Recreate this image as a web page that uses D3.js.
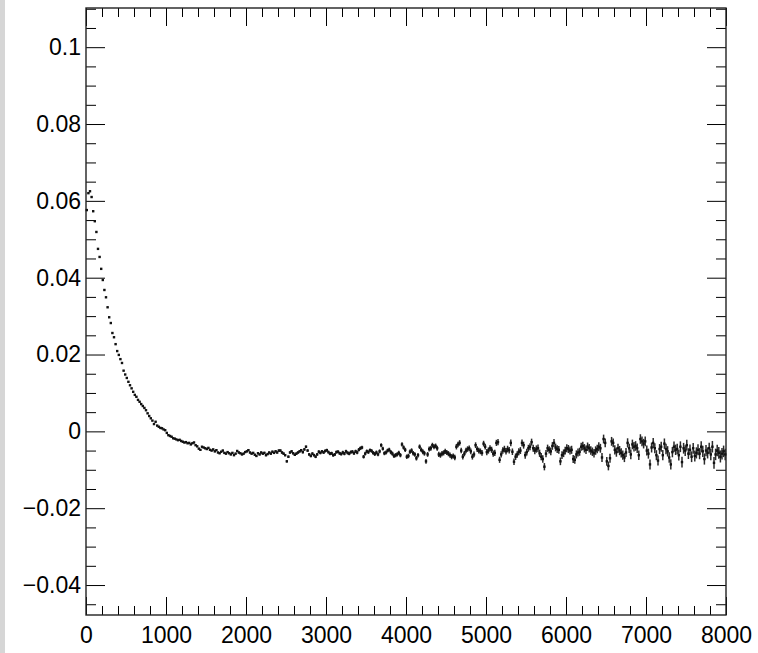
<!DOCTYPE html>
<html>
<head>
<meta charset="utf-8">
<script src="https://cdn.jsdelivr.net/npm/d3@7"></script>
<style>
  html, body { margin: 0; padding: 0; background: #fff; }
  svg { display: block; }
  text { font-family: "Liberation Sans", Arial, Helvetica, sans-serif; }
</style>
</head>
<body>
<script>
// ---- data ----
const binWidth = 20;            // histogram bin width in x units
const xMajorTicks = [0, 1000, 2000, 3000, 4000, 5000, 6000, 7000, 8000];
const yMajorTicks = [-0.04, -0.02, 0, 0.02, 0.04, 0.06, 0.08, 0.1];
const xDomain = [0, 8000];
const yDomain = [-0.0478, 0.1102];

// bin contents, bins of width 20 starting at x = 0
const values = [
  0.0576, 0.0620, 0.0625, 0.0610, 0.0573, 0.0547, 0.0519, 0.0475, 0.0454, 0.0423,
  0.0394, 0.0368, 0.0349, 0.0323, 0.0297, 0.0282, 0.0256, 0.0245, 0.0227, 0.0209,
  0.0199, 0.0188, 0.0178, 0.0158, 0.0148, 0.0139, 0.0129, 0.0120, 0.0112, 0.0103,
  0.0095, 0.0090, 0.0082, 0.0077, 0.0071, 0.0066, 0.0061, 0.0055, 0.0047, 0.0040,
  0.0034, 0.0028, 0.0019, 0.0025, 0.0015, 0.0012, 0.0009, 0.0008, 0.0005, 0.0003,
  -0.0004, -0.0010, -0.0012, -0.0014, -0.0018, -0.0019, -0.0021, -0.0023, -0.0022, -0.0025,
  -0.0027, -0.0029, -0.0028, -0.0031, -0.0030, -0.0034, -0.0031, -0.0029, -0.0036, -0.0039,
  -0.0045, -0.0048, -0.0040, -0.0042, -0.0044, -0.0046, -0.0043, -0.0048, -0.0050, -0.0047,
  -0.0052, -0.0049, -0.0055, -0.0057, -0.0053, -0.0050, -0.0056, -0.0058, -0.0054, -0.0057,
  -0.0060, -0.0056, -0.0062, -0.0058, -0.0051, -0.0055, -0.0057, -0.0060, -0.0058, -0.0054,
  -0.0052, -0.0049, -0.0055, -0.0058, -0.0056, -0.0061, -0.0064, -0.0057, -0.0060, -0.0055,
  -0.0058, -0.0056, -0.0062, -0.0059, -0.0055, -0.0058, -0.0053, -0.0056, -0.0052, -0.0055,
  -0.0050, -0.0050, -0.0055, -0.0058, -0.0062, -0.0078, -0.0066, -0.0055, -0.0052, -0.0057,
  -0.0061, -0.0058, -0.0055, -0.0052, -0.0049, -0.0054, -0.0047, -0.0040, -0.0050, -0.0060,
  -0.0064, -0.0058, -0.0062, -0.0066, -0.0060, -0.0053, -0.0056, -0.0052, -0.0055, -0.0051,
  -0.0049, -0.0054, -0.0058, -0.0057, -0.0062, -0.0060, -0.0054, -0.0053, -0.0057, -0.0059,
  -0.0055, -0.0058, -0.0052, -0.0056, -0.0058, -0.0054, -0.0053, -0.0057, -0.0052, -0.0055,
  -0.0048, -0.0044, -0.0042, -0.0066, -0.0058, -0.0052, -0.0054, -0.0049, -0.0051, -0.0056,
  -0.0059, -0.0055, -0.0060, -0.0052, -0.0036, -0.0045, -0.0057, -0.0055, -0.0050, -0.0048,
  -0.0054, -0.0058, -0.0064, -0.0062, -0.0060, -0.0056, -0.0062, -0.0034, -0.0042, -0.0048,
  -0.0066, -0.0064, -0.0053, -0.0050, -0.0057, -0.0060, -0.0070, -0.0062, -0.0040, -0.0048,
  -0.0053, -0.0057, -0.0078, -0.0060, -0.0046, -0.0044, -0.0036, -0.0040, -0.0038, -0.0044,
  -0.0060, -0.0062, -0.0058, -0.0056, -0.0052, -0.0055, -0.0058, -0.0062, -0.0066, -0.0064,
  -0.0068, -0.0040, -0.0034, -0.0030, -0.0050, -0.0066, -0.0058, -0.0050, -0.0046, -0.0044,
  -0.0052, -0.0066, -0.0060, -0.0036, -0.0046, -0.0050, -0.0052, -0.0056, -0.0032, -0.0040,
  -0.0054, -0.0050, -0.0044, -0.0048, -0.0058, -0.0056, -0.0030, -0.0028, -0.0074, -0.0060,
  -0.0050, -0.0046, -0.0052, -0.0046, -0.0049, -0.0030, -0.0053, -0.0079, -0.0066, -0.0060,
  -0.0053, -0.0050, -0.0030, -0.0036, -0.0062, -0.0054, -0.0044, -0.0040, -0.0028, -0.0044,
  -0.0050, -0.0046, -0.0044, -0.0057, -0.0066, -0.0072, -0.0092, -0.0058, -0.0044, -0.0048,
  -0.0052, -0.0038, -0.0030, -0.0042, -0.0046, -0.0048, -0.0078, -0.0062, -0.0057, -0.0050,
  -0.0044, -0.0046, -0.0050, -0.0048, -0.0072, -0.0074, -0.0060, -0.0055, -0.0053, -0.0040,
  -0.0038, -0.0044, -0.0048, -0.0040, -0.0044, -0.0050, -0.0053, -0.0057, -0.0050, -0.0046,
  -0.0040, -0.0044, -0.0068, -0.0020, -0.0030, -0.0078, -0.0090, -0.0070, -0.0026, -0.0030,
  -0.0048, -0.0054, -0.0044, -0.0050, -0.0056, -0.0062, -0.0068, -0.0055, -0.0030, -0.0044,
  -0.0060, -0.0034, -0.0040, -0.0038, -0.0044, -0.0062, -0.0020, -0.0026, -0.0032, -0.0026,
  -0.0050, -0.0058, -0.0086, -0.0042, -0.0030, -0.0044, -0.0062, -0.0076, -0.0046, -0.0040,
  -0.0062, -0.0032, -0.0046, -0.0052, -0.0068, -0.0086, -0.0054, -0.0040, -0.0048, -0.0046,
  -0.0062, -0.0040, -0.0080, -0.0044, -0.0050, -0.0036, -0.0058, -0.0048, -0.0066, -0.0044,
  -0.0064, -0.0056, -0.0048, -0.0058, -0.0040, -0.0052, -0.0072, -0.0050, -0.0056, -0.0044,
  -0.0060, -0.0040, -0.0082, -0.0060, -0.0050, -0.0056, -0.0066, -0.0058, -0.0052, -0.0060
];

// bin errors (half length of the vertical error bars)
const errors = [
  0.00010, 0.00010, 0.00010, 0.00010, 0.00010, 0.00010, 0.00010, 0.00010, 0.00010, 0.00010,
  0.00010, 0.00010, 0.00010, 0.00010, 0.00010, 0.00010, 0.00010, 0.00010, 0.00010, 0.00010,
  0.00011, 0.00011, 0.00011, 0.00011, 0.00011, 0.00011, 0.00011, 0.00011, 0.00011, 0.00011,
  0.00012, 0.00012, 0.00012, 0.00012, 0.00012, 0.00012, 0.00012, 0.00012, 0.00012, 0.00012,
  0.00013, 0.00013, 0.00013, 0.00013, 0.00013, 0.00013, 0.00013, 0.00013, 0.00013, 0.00013,
  0.00015, 0.00015, 0.00015, 0.00015, 0.00015, 0.00015, 0.00015, 0.00015, 0.00015, 0.00015,
  0.00017, 0.00017, 0.00017, 0.00017, 0.00017, 0.00017, 0.00017, 0.00017, 0.00017, 0.00017,
  0.00019, 0.00019, 0.00019, 0.00019, 0.00019, 0.00019, 0.00019, 0.00019, 0.00019, 0.00019,
  0.00021, 0.00021, 0.00021, 0.00021, 0.00021, 0.00021, 0.00021, 0.00021, 0.00021, 0.00021,
  0.00023, 0.00023, 0.00023, 0.00023, 0.00023, 0.00023, 0.00023, 0.00023, 0.00023, 0.00023,
  0.00025, 0.00025, 0.00025, 0.00025, 0.00025, 0.00025, 0.00025, 0.00025, 0.00025, 0.00025,
  0.00028, 0.00028, 0.00028, 0.00028, 0.00028, 0.00028, 0.00028, 0.00028, 0.00028, 0.00028,
  0.00031, 0.00031, 0.00031, 0.00031, 0.00031, 0.00031, 0.00031, 0.00031, 0.00031, 0.00031,
  0.00034, 0.00034, 0.00034, 0.00034, 0.00034, 0.00034, 0.00034, 0.00034, 0.00034, 0.00034,
  0.00037, 0.00037, 0.00037, 0.00037, 0.00037, 0.00037, 0.00037, 0.00037, 0.00037, 0.00037,
  0.00040, 0.00040, 0.00040, 0.00040, 0.00040, 0.00040, 0.00040, 0.00040, 0.00040, 0.00040,
  0.00043, 0.00043, 0.00043, 0.00043, 0.00043, 0.00043, 0.00043, 0.00043, 0.00043, 0.00043,
  0.00047, 0.00047, 0.00047, 0.00047, 0.00047, 0.00047, 0.00047, 0.00047, 0.00047, 0.00047,
  0.00051, 0.00051, 0.00051, 0.00051, 0.00051, 0.00051, 0.00051, 0.00051, 0.00051, 0.00051,
  0.00055, 0.00055, 0.00055, 0.00055, 0.00055, 0.00055, 0.00055, 0.00055, 0.00055, 0.00055,
  0.00059, 0.00059, 0.00059, 0.00059, 0.00059, 0.00059, 0.00059, 0.00059, 0.00059, 0.00059,
  0.00063, 0.00063, 0.00063, 0.00063, 0.00063, 0.00063, 0.00063, 0.00063, 0.00063, 0.00063,
  0.00067, 0.00067, 0.00067, 0.00067, 0.00067, 0.00067, 0.00067, 0.00067, 0.00067, 0.00067,
  0.00071, 0.00071, 0.00071, 0.00071, 0.00071, 0.00071, 0.00071, 0.00071, 0.00071, 0.00071,
  0.00075, 0.00075, 0.00075, 0.00075, 0.00075, 0.00075, 0.00075, 0.00075, 0.00075, 0.00075,
  0.00080, 0.00080, 0.00080, 0.00080, 0.00080, 0.00080, 0.00080, 0.00080, 0.00080, 0.00080,
  0.00085, 0.00085, 0.00085, 0.00085, 0.00085, 0.00085, 0.00085, 0.00085, 0.00085, 0.00085,
  0.00090, 0.00090, 0.00090, 0.00090, 0.00090, 0.00090, 0.00090, 0.00090, 0.00090, 0.00090,
  0.00095, 0.00095, 0.00095, 0.00095, 0.00095, 0.00095, 0.00095, 0.00095, 0.00095, 0.00095,
  0.00100, 0.00100, 0.00100, 0.00100, 0.00100, 0.00100, 0.00100, 0.00100, 0.00100, 0.00100,
  0.00105, 0.00105, 0.00105, 0.00105, 0.00105, 0.00105, 0.00105, 0.00105, 0.00105, 0.00105,
  0.00110, 0.00110, 0.00110, 0.00110, 0.00110, 0.00110, 0.00110, 0.00110, 0.00110, 0.00110,
  0.00115, 0.00115, 0.00115, 0.00115, 0.00115, 0.00115, 0.00115, 0.00115, 0.00115, 0.00115,
  0.00120, 0.00120, 0.00120, 0.00120, 0.00120, 0.00120, 0.00120, 0.00120, 0.00120, 0.00120,
  0.00125, 0.00125, 0.00125, 0.00125, 0.00125, 0.00125, 0.00125, 0.00125, 0.00125, 0.00125,
  0.00130, 0.00130, 0.00130, 0.00130, 0.00130, 0.00130, 0.00130, 0.00130, 0.00130, 0.00130,
  0.00135, 0.00135, 0.00135, 0.00135, 0.00135, 0.00135, 0.00135, 0.00135, 0.00135, 0.00135,
  0.00140, 0.00140, 0.00140, 0.00140, 0.00140, 0.00140, 0.00140, 0.00140, 0.00140, 0.00140,
  0.00145, 0.00145, 0.00145, 0.00145, 0.00145, 0.00145, 0.00145, 0.00145, 0.00145, 0.00145,
  0.00150, 0.00150, 0.00150, 0.00150, 0.00150, 0.00150, 0.00150, 0.00150, 0.00150, 0.00150
];

// ---- drawing ----
const W = 758, H = 653;
const frame = { left: 86, right: 726, top: 8, bottom: 615 };

const svg = d3.select("body").append("svg").attr("width", W).attr("height", H);

// light grey strip on the left edge
svg.append("rect").attr("x", 0).attr("y", 0).attr("width", 5).attr("height", H).attr("fill", "#d6d6d6");

const x = d3.scaleLinear().domain(xDomain).range([frame.left, frame.right]);
const y = d3.scaleLinear().domain(yDomain).range([frame.bottom, frame.top]);

const xMinor = d3.range(xDomain[0], xDomain[1] + 1, 200).filter(v => v % 1000 !== 0);
const yMinor = d3.range(-0.045, 0.1101, 0.005).map(v => +v.toFixed(4))
  .filter(v => Math.abs(Math.round(v / 0.02) * 0.02 - v) > 1e-6);

const fmtY = d => (d === 0 ? "0" : d3.format("~g")(d));

function styleAxis(g) {
  g.select(".domain").remove();
  g.selectAll(".tick line").attr("stroke", "#000").attr("stroke-width", 1);
  g.selectAll(".tick text").attr("fill", "#000").style("font-size", "23px")
    .style("font-family", "'Liberation Sans', Arial, Helvetica, sans-serif");
}

// bottom axis (labels) + ticks pointing up
svg.append("g").attr("transform", `translate(0,${frame.bottom})`)
  .call(d3.axisBottom(x).tickValues(xMajorTicks).tickSizeInner(-18).tickSizeOuter(0).tickPadding(12).tickFormat(d3.format("d")))
  .call(styleAxis);
svg.append("g").attr("transform", `translate(0,${frame.bottom})`)
  .call(d3.axisBottom(x).tickValues(xMinor).tickSizeInner(-9).tickSizeOuter(0).tickFormat(""))
  .call(styleAxis);
// top ticks
svg.append("g").attr("transform", `translate(0,${frame.top})`)
  .call(d3.axisTop(x).tickValues(xMajorTicks).tickSizeInner(-18).tickSizeOuter(0).tickFormat(""))
  .call(styleAxis);
svg.append("g").attr("transform", `translate(0,${frame.top})`)
  .call(d3.axisTop(x).tickValues(xMinor).tickSizeInner(-9).tickSizeOuter(0).tickFormat(""))
  .call(styleAxis);

// left axis (labels)
svg.append("g").attr("transform", `translate(${frame.left},0)`)
  .call(d3.axisLeft(y).tickValues(yMajorTicks).tickSizeInner(-19).tickSizeOuter(0).tickPadding(5).tickFormat(fmtY))
  .call(styleAxis);
svg.append("g").attr("transform", `translate(${frame.left},0)`)
  .call(d3.axisLeft(y).tickValues(yMinor).tickSizeInner(-10).tickSizeOuter(0).tickFormat(""))
  .call(styleAxis);
// right ticks
svg.append("g").attr("transform", `translate(${frame.right},0)`)
  .call(d3.axisRight(y).tickValues(yMajorTicks).tickSizeInner(-19).tickSizeOuter(0).tickFormat(""))
  .call(styleAxis);
svg.append("g").attr("transform", `translate(${frame.right},0)`)
  .call(d3.axisRight(y).tickValues(yMinor).tickSizeInner(-10).tickSizeOuter(0).tickFormat(""))
  .call(styleAxis);

// frame
svg.append("rect")
  .attr("x", frame.left).attr("y", frame.top)
  .attr("width", frame.right - frame.left).attr("height", frame.bottom - frame.top)
  .attr("fill", "none").attr("stroke", "#222").attr("stroke-width", 1.4);

// data
const bins = values.map((v, i) => ({ xc: (i + 0.5) * binWidth, v, e: errors[i] }));
const plot = svg.append("g");
plot.selectAll("line.err").data(bins).join("line")
  .attr("class", "err")
  .attr("x1", d => x(d.xc)).attr("x2", d => x(d.xc))
  .attr("y1", d => y(d.v - d.e)).attr("y2", d => y(d.v + d.e))
  .attr("stroke", "#2a2a2a").attr("stroke-width", 1.5);
plot.selectAll("rect.pt").data(bins).join("rect")
  .attr("class", "pt")
  .attr("x", d => x(d.xc) - 1.2).attr("y", d => y(d.v) - 1.2)
  .attr("width", 2.4).attr("height", 2.4)
  .attr("fill", "#111");
</script>
</body>
</html>
